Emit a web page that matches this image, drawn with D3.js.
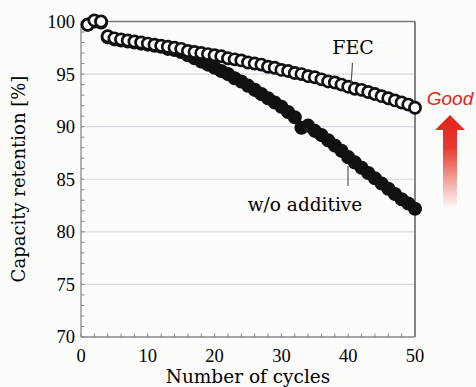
<!DOCTYPE html>
<html><head><meta charset="utf-8">
<script src="https://cdn.jsdelivr.net/npm/d3@7"></script>
<style>html,body{margin:0;padding:0;background:#fcfcfa;}svg{display:block;}</style>
</head><body>
<svg id="c" width="476" height="387"></svg>
<script>
const cycles = [1,2,3,4,5,6,7,8,9,10,11,12,13,14,15,16,17,18,19,20,21,22,23,24,25,26,27,28,29,30,31,32,33,34,35,36,37,38,39,40,41,42,43,44,45,46,47,48,49,50];
const fecValues = [99.7,100.1,100.0,98.6,98.4,98.3,98.2,98.1,98.0,97.9,97.8,97.7,97.6,97.5,97.4,97.2,97.1,97.0,96.9,96.8,96.7,96.5,96.4,96.3,96.1,96.0,95.9,95.7,95.6,95.4,95.3,95.1,95.0,94.8,94.7,94.5,94.3,94.2,94.0,93.8,93.6,93.5,93.3,93.1,92.9,92.7,92.5,92.3,92.1,91.8];
const noAddValues = [99.7,100.0,99.9,98.5,98.3,98.2,98.1,98.0,97.9,97.8,97.7,97.6,97.4,97.3,97.1,96.8,96.5,96.2,95.9,95.6,95.3,95.0,94.6,94.3,93.9,93.5,93.1,92.7,92.3,91.9,91.4,90.9,89.9,90.1,89.6,89.2,88.7,88.2,87.7,87.1,86.6,86.1,85.6,85.1,84.6,84.1,83.6,83.1,82.7,82.2];
const xTicks = [0,10,20,30,40,50];
const yTicks = [70,75,80,85,90,95,100];
const yGrid = [75,80,85,90,95];
const xMinor = [0,2,4,6,8,10,12,14,16,18,20,22,24,26,28,30,32,34,36,38,40,42,44,46,48,50];
const yMinor = [70,71,72,73,74,75,76,77,78,79,80,81,82,83,84,85,86,87,88,89,90,91,92,93,94,95,96,97,98,99,100];
const labels = {x:"Number of cycles", y:"Capacity retention [%]", fec:"FEC", none:"w/o additive", good:"Good"};

const svg = d3.select("#c");
const x = d3.scaleLinear().domain([0,50]).range([81,415]);
const y = d3.scaleLinear().domain([70,100]).range([337,21.5]);
const serif = "'DejaVu Serif', serif";

const defs = svg.append("defs");
const grad = defs.append("linearGradient").attr("id","ag").attr("x1",0).attr("y1",0).attr("x2",0).attr("y2",1);
grad.append("stop").attr("offset","0%").attr("stop-color","#e2231a");
grad.append("stop").attr("offset","35%").attr("stop-color","#e63a30");
grad.append("stop").attr("offset","100%").attr("stop-color","#fcfcfa");

svg.append("g").selectAll("line").data(yGrid).join("line")
  .attr("x1",x(0)).attr("x2",x(50)).attr("y1",d=>y(d)).attr("y2",d=>y(d))
  .attr("stroke","#d9d9e2").attr("stroke-width",1.2);

const fr = svg.append("g").attr("stroke","#444").attr("stroke-width",1.3).attr("fill","none");
fr.append("line").attr("x1",x(0)).attr("x2",x(50)).attr("y1",y(100)).attr("y2",y(100)).attr("stroke","#777");
fr.append("line").attr("x1",x(50)).attr("x2",x(50)).attr("y1",y(100)).attr("y2",y(70));
fr.append("line").attr("x1",x(0)).attr("x2",x(50)).attr("y1",y(70)).attr("y2",y(70)).attr("stroke","#888");
fr.append("line").attr("x1",x(0)).attr("x2",x(0)).attr("y1",y(100)).attr("y2",y(70)).attr("stroke","#888");

svg.append("g").selectAll("line").data(yMinor).join("line")
  .attr("x1",x(0)).attr("x2",x(0)+3.5).attr("y1",d=>y(d)).attr("y2",d=>y(d))
  .attr("stroke","#888").attr("stroke-width",1);
svg.append("g").selectAll("line").data(xMinor).join("line")
  .attr("x1",d=>x(d)).attr("x2",d=>x(d)).attr("y1",y(70)).attr("y2",y(70)-3.5)
  .attr("stroke","#888").attr("stroke-width",1);

svg.append("g").selectAll("text").data(yTicks).join("text")
  .attr("x",x(0)-6).attr("y",d=>y(d)).attr("dy","0.35em").attr("text-anchor","end")
  .attr("font-family","'Liberation Serif', serif").attr("font-size",18.5).attr("fill","#000").text(d=>d);
svg.append("g").selectAll("text").data(xTicks).join("text")
  .attr("x",d=>x(d)).attr("y",362).attr("text-anchor","middle")
  .attr("font-family","'Liberation Serif', serif").attr("font-size",18.5).attr("fill","#000").text(d=>d);

svg.append("text").attr("x",248).attr("y",383).attr("text-anchor","middle")
  .attr("font-family",serif).attr("font-size",18.5).attr("fill","#000").text(labels.x);
svg.append("text").attr("transform","translate(25,179) rotate(-90)").attr("text-anchor","middle")
  .attr("font-family",serif).attr("font-size",18).attr("fill","#000").text(labels.y);

svg.append("g").selectAll("circle").data(cycles).join("circle")
  .attr("cx",d=>x(d)).attr("cy",(d,i)=>y(noAddValues[i])).attr("r",6.3)
  .attr("fill","#111").attr("stroke","#111").attr("stroke-width",1.5);
svg.append("g").selectAll("circle").data(cycles).join("circle")
  .attr("cx",d=>x(d)).attr("cy",(d,i)=>y(fecValues[i])).attr("r",5.6)
  .attr("fill","#fff").attr("stroke","#111").attr("stroke-width",2.7);

svg.append("text").attr("x",353).attr("y",54).attr("text-anchor","middle")
  .attr("font-family",serif).attr("font-size",19).attr("fill","#000").text(labels.fec);
svg.append("line").attr("x1",352.5).attr("x2",351).attr("y1",63).attr("y2",85).attr("stroke","#555").attr("stroke-width",1.2);
svg.append("text").attr("x",305).attr("y",211).attr("text-anchor","middle")
  .attr("font-family",serif).attr("font-size",18.5).attr("fill","#000").text(labels.none);
svg.append("line").attr("x1",348).attr("x2",348).attr("y1",166).attr("y2",186).attr("stroke","#555").attr("stroke-width",1.2);

svg.append("text").attr("x",450).attr("y",105).attr("text-anchor","middle")
  .attr("font-family","'Liberation Sans', Arial, sans-serif").attr("font-style","italic").attr("font-size",19)
  .attr("fill","#e2231a").text(labels.good);
svg.append("path").attr("d","M450,115 L465,130 L457,130 L457,208 L443,208 L443,130 L435,130 Z")
  .attr("fill","url(#ag)");
</script>
</body></html>
